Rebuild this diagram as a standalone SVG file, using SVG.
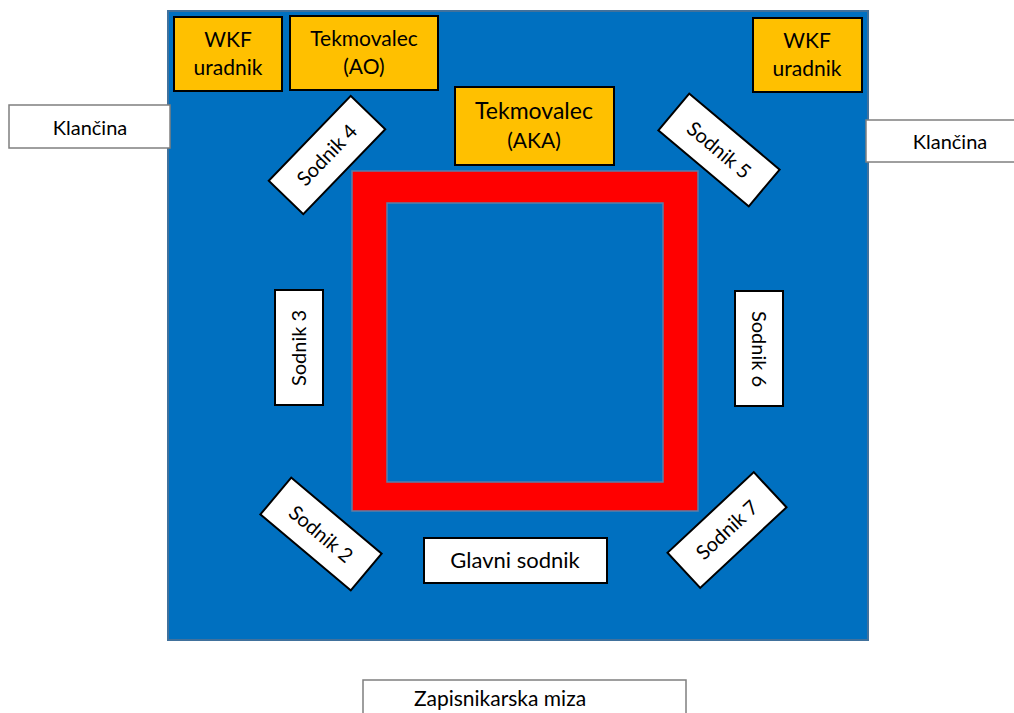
<svg xmlns="http://www.w3.org/2000/svg" width="1014" height="713" viewBox="0 0 1014 713">
<style>
text{font-family:Lato,"Liberation Sans",sans-serif;fill:#000;text-anchor:middle}
.y{fill:#FFC000;stroke:#000;stroke-width:2}
.w{fill:#fff;stroke:#000;stroke-width:2}
.g{fill:#fff;stroke:#7f7f7f;stroke-width:1.5}
.t21{font-size:21px}
.t23{font-size:23px}
.t20{font-size:20px}
</style>
<rect width="1014" height="713" fill="#fff"/>
<g id="area">
<rect x="168" y="11" width="700" height="629" fill="#0070C0" stroke="#41719C" stroke-width="2"/>
</g>
<g id="ring">
<rect x="352" y="171" width="346" height="340" fill="#FF0000" stroke="#5B7FA8" stroke-width="1.5"/>
<rect x="387" y="203" width="276" height="279" fill="#0070C0" stroke="#5B7FA8" stroke-width="1.5"/>
</g>
<g id="wkf1"><rect class="y" x="174" y="17" width="108" height="74"/><text class="t21" x="228" y="47">WKF</text><text class="t21" x="228" y="75">uradnik</text></g>
<g id="ao"><rect class="y" x="290" y="16" width="148" height="74"/><text class="t21" x="364" y="46">Tekmovalec</text><text class="t21" x="364" y="74">(AO)</text></g>
<g id="wkf2"><rect class="y" x="753" y="18" width="109" height="74"/><text class="t21" x="807" y="48">WKF</text><text class="t21" x="807" y="76">uradnik</text></g>
<g id="aka"><rect class="y" x="455" y="87" width="159" height="78"/><text class="t23" x="534" y="119">Tekmovalec</text><text class="t21" x="534" y="148">(AKA)</text></g>
<g id="klancina1"><rect class="g" x="9" y="105" width="161" height="43"/><text class="t20" x="90" y="135">Klančina</text></g>
<g id="klancina2"><rect class="g" x="866" y="120" width="160" height="42"/><text class="t20" x="950" y="149">Klančina</text></g>
<g id="sodnik4" transform="translate(327 155) rotate(-46)"><rect class="w" x="-59" y="-24" width="118" height="48"/><text class="t20" x="0" y="7">Sodnik 4</text></g>
<g id="sodnik5" transform="translate(719 150) rotate(40)"><rect class="w" x="-59" y="-24" width="118" height="48"/><text class="t20" x="0" y="7">Sodnik 5</text></g>
<g id="sodnik2" transform="translate(321 534) rotate(40)"><rect class="w" x="-59" y="-24" width="118" height="48"/><text class="t20" x="0" y="7">Sodnik 2</text></g>
<g id="sodnik7" transform="translate(727 530) rotate(-43)"><rect class="w" x="-59" y="-24" width="118" height="48"/><text class="t20" x="0" y="7">Sodnik 7</text></g>
<g id="sodnik3"><rect class="w" x="275" y="290" width="48" height="115"/><text class="t20" transform="translate(299 348) rotate(-90)" x="0" y="7">Sodnik 3</text></g>
<g id="sodnik6"><rect class="w" x="735" y="291" width="48" height="115"/><text class="t20" transform="translate(759 349) rotate(90)" x="0" y="7">Sodnik 6</text></g>
<g id="glavni"><rect class="w" x="424" y="538" width="183" height="45"/><text class="t21" x="515" y="568" style="font-size:22px">Glavni sodnik</text></g>
<g id="zapisnikarska"><rect class="g" x="363" y="680" width="323" height="45"/><text class="t21" x="500" y="706">Zapisnikarska miza</text></g>
<g id="connectors"/>
</svg>
